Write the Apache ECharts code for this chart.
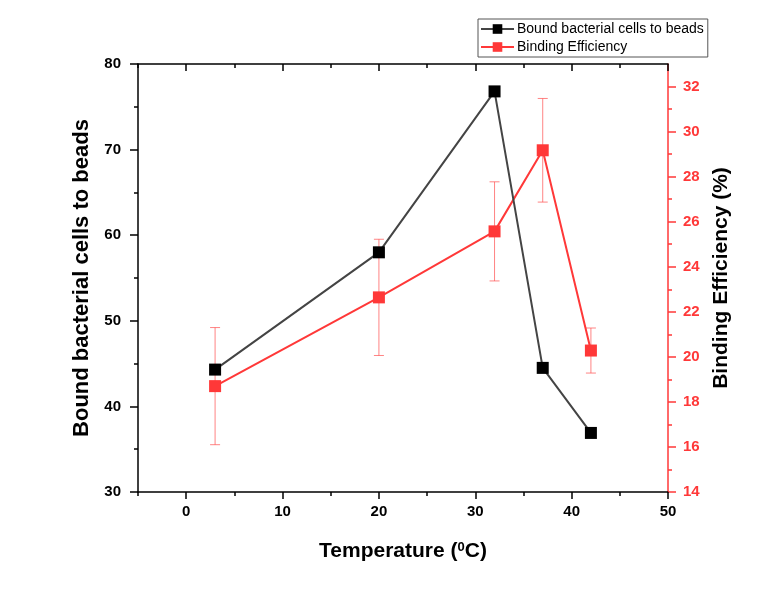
<!DOCTYPE html>
<html>
<head>
<meta charset="utf-8">
<script src="https://cdn.jsdelivr.net/npm/echarts@6/dist/echarts.min.js"></script>
<style>
  html, body { margin: 0; padding: 0; background: #fff; }
  #chart { width: 774px; height: 590px; }
</style>
</head>
<body>
<div id="chart"></div>
<script>
var temps = [3, 20, 32, 37, 42];
var boundCells = [44.3, 58.0, 76.8, 44.5, 36.9];
var efficiency = [18.7, 22.64, 25.57, 29.17, 20.28];
var efficiencyErr = [2.6, 2.58, 2.2, 2.3, 1.0];

var xMajorTicks = [0, 10, 20, 30, 40, 50];
var xMinorTicks = [-5, 5, 15, 25, 35, 45];
var rightMajorTicks = [14, 16, 18, 20, 22, 24, 26, 28, 30, 32];
var rightMinorTicks = [15, 17, 19, 21, 23, 25, 27, 29, 31];

var FONT = 'Liberation Sans';
var RED = '#ff3838';

var chart = echarts.init(document.getElementById('chart'));

var lineData = temps.map(function(t, i){ return [t, boundCells[i]]; });
var effData = temps.map(function(t, i){ return [t, efficiency[i]]; });
var errData = temps.map(function(t, i){
  return [t, efficiency[i] - efficiencyErr[i], efficiency[i] + efficiencyErr[i]];
});

function xAxisBase(pos, ticks, len, inside, showLine){
  return {
    type: 'value', position: pos, min: -5, max: 50,
    axisLine: { show: showLine, onZero: false, lineStyle: { color: '#000', width: 1.5 } },
    axisTick: { show: true, inside: inside, length: len, customValues: ticks, lineStyle: { color: '#000', width: 1.5 } },
    axisLabel: { show: false },
    splitLine: { show: false }
  };
}

var bottomMain = xAxisBase('bottom', xMajorTicks, 7, false, true);
bottomMain.axisLabel = {
  show: true, customValues: xMajorTicks, margin: 12,
  fontFamily: FONT, fontWeight: 'bold', fontSize: 15, color: '#000'
};
bottomMain.name = 'Temperature ({sup|0}C)';
bottomMain.nameLocation = 'middle';
bottomMain.nameGap = 49;
bottomMain.nameTextStyle = {
  fontFamily: FONT, fontWeight: 'bold', fontSize: 21, color: '#000',
  rich: { sup: { fontFamily: FONT, fontWeight: 'bold', fontSize: 13, color: '#000', verticalAlign: 'top', padding: [0, 0, 4, 0] } }
};

var option = {
  backgroundColor: '#fff',
  animation: false,
  grid: { left: 138, right: 106, top: 64, bottom: 98, outerBoundsMode: 'none' },
  legend: {
    orient: 'vertical', left: 478, top: 19,
    data: ['Bound bacterial cells to beads', 'Binding Efficiency'],
    itemWidth: 33, itemHeight: 12, itemGap: 4,
    padding: [3, 4, 3, 2],
    borderColor: '#555', borderWidth: 1,
    textStyle: { fontFamily: FONT, fontSize: 14, color: '#000', padding: [0, 0, 0, -2] }
  },
  xAxis: [
    bottomMain,
    xAxisBase('bottom', xMinorTicks, 4, false, false),
    xAxisBase('top', xMajorTicks, 7, true, true),
    xAxisBase('top', xMinorTicks, 4, true, false)
  ],
  yAxis: [
    {
      type: 'value', position: 'left', min: 30, max: 80, interval: 10,
      name: 'Bound bacterial cells to beads', nameLocation: 'middle', nameGap: 38,
      nameTextStyle: { fontFamily: FONT, fontWeight: 'bold', fontSize: 22, color: '#000' },
      axisLine: { show: true, onZero: false, lineStyle: { color: '#000', width: 1.5 } },
      axisTick: { show: true, length: 8, lineStyle: { color: '#000', width: 1.5 } },
      minorTick: { show: true, splitNumber: 2, length: 4, lineStyle: { color: '#000', width: 1.5 } },
      axisLabel: { margin: 17, fontFamily: FONT, fontWeight: 'bold', fontSize: 15, color: '#000' },
      splitLine: { show: false }, minorSplitLine: { show: false }
    },
    {
      type: 'value', position: 'right', min: 14, max: 33,
      name: 'Binding Efficiency (%)', nameLocation: 'middle', nameGap: 42,
      nameTextStyle: { fontFamily: FONT, fontWeight: 'bold', fontSize: 21, color: '#000' },
      axisLine: { show: true, onZero: false, lineStyle: { color: RED, width: 1.5 } },
      axisTick: { show: true, length: 8, customValues: rightMajorTicks, lineStyle: { color: RED, width: 1.5 } },
      axisLabel: { customValues: rightMajorTicks, margin: 15, fontFamily: FONT, fontWeight: 'bold', fontSize: 15, color: RED },
      splitLine: { show: false }
    },
    {
      type: 'value', position: 'right', min: 14, max: 33,
      axisLine: { show: false, onZero: false },
      axisTick: { show: true, length: 4, customValues: rightMinorTicks, lineStyle: { color: RED, width: 1.5 } },
      axisLabel: { show: false },
      splitLine: { show: false }
    }
  ],
  series: [
    {
      name: 'Error', type: 'custom', xAxisIndex: 0, yAxisIndex: 1,
      data: errData, z: 1,
      renderItem: function(params, api){
        var x = api.value(0);
        var lo = api.coord([x, api.value(1)]);
        var hi = api.coord([x, api.value(2)]);
        var w = 5;
        var st = { stroke: 'rgba(255,80,80,0.7)', lineWidth: 1 };
        return {
          type: 'group',
          children: [
            { type: 'line', shape: { x1: lo[0], y1: lo[1], x2: hi[0], y2: hi[1] }, style: st },
            { type: 'line', shape: { x1: hi[0] - w, y1: hi[1], x2: hi[0] + w, y2: hi[1] }, style: st },
            { type: 'line', shape: { x1: lo[0] - w, y1: lo[1], x2: lo[0] + w, y2: lo[1] }, style: st }
          ]
        };
      }
    },
    {
      name: 'Binding Efficiency', type: 'line', xAxisIndex: 0, yAxisIndex: 1,
      data: effData, symbol: 'rect', symbolSize: 12, z: 2,
      lineStyle: { color: RED, width: 2 },
      itemStyle: { color: RED }
    },
    {
      name: 'Bound bacterial cells to beads', type: 'line', xAxisIndex: 0, yAxisIndex: 0,
      data: lineData, symbol: 'rect', symbolSize: 12, z: 3,
      lineStyle: { color: '#444', width: 2 },
      itemStyle: { color: '#000' }
    }
  ]
};

chart.setOption(option);
</script>
</body>
</html>
